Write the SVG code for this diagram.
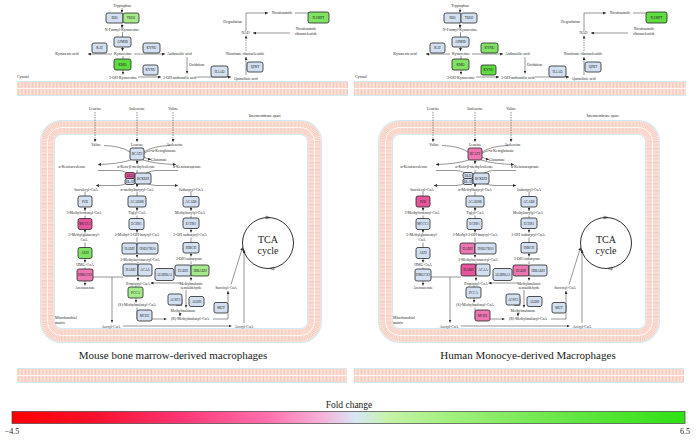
<svg xmlns="http://www.w3.org/2000/svg" width="698" height="442" viewBox="0 0 698 442">
<defs>
<style>
.m{font-family:"Liberation Serif",serif;font-size:3.8px;fill:#2a2a2a;text-anchor:middle}
.ms{text-anchor:start}
.me{text-anchor:end}
.n rect{stroke:#262626;stroke-width:0.8;rx:2px;ry:2px}
.n text{font-family:"Liberation Serif",serif;font-size:3.4px;text-anchor:middle;fill:#1a1a1a}
.bl{fill:#d3e0f1}.g1{fill:#a6ea8c}.g2{fill:#5fdc3f}.g3{fill:#80e264}.p1{fill:#e4559b}.p2{fill:#ec77b2}
.c path,.c line{stroke:#2a2a2a;stroke-width:0.5;fill:none}
.a{marker-end:url(#ar)}
.d{stroke-dasharray:1.5 1}
.title{font-family:"Liberation Serif",serif;font-size:11px;fill:#1a1a1a;text-anchor:middle}
.tca{font-family:"Liberation Serif",serif;font-size:10px;fill:#1a1a1a;text-anchor:middle}
.mb1{fill:none;stroke:#d2e9f1;stroke-width:15}
.mb2{fill:none;stroke:#fde6df;stroke-width:13}
.mb3{fill:none;stroke:#f5c4b6;stroke-width:12;stroke-dasharray:0.6 0.8}
.mb4{fill:none;stroke:#fff;stroke-width:0.8}
</style>
<marker id="ar" markerUnits="userSpaceOnUse" markerWidth="3" markerHeight="3" refX="3" refY="1.5" orient="auto"><path d="M0,0 L3,1.5 L0,3z" fill="#2a2a2a"/></marker>
<pattern id="hatch" width="1.4" height="4" patternUnits="userSpaceOnUse"><rect width="1.4" height="4" fill="#fde6df"/><rect width="0.6" height="4" fill="#f5c4b6"/></pattern>
<linearGradient id="fc" x1="0" x2="1" y1="0" y2="0">
<stop offset="0" stop-color="#ff0000"/><stop offset="0.12" stop-color="#f5102a"/><stop offset="0.25" stop-color="#ff3575"/><stop offset="0.38" stop-color="#ff70ae"/><stop offset="0.46" stop-color="#f6b0d8"/><stop offset="0.51" stop-color="#d8e6f6"/><stop offset="0.56" stop-color="#c6f3a8"/><stop offset="0.65" stop-color="#a2f07e"/><stop offset="0.8" stop-color="#6ee84c"/><stop offset="1" stop-color="#2fe014"/>
</linearGradient>
</defs>
<rect width="698" height="442" fill="#fff"/>

<!-- membranes -->
<g id="membranes">
<rect x="17" y="81" width="331" height="15" fill="#d2e9f1"/><rect x="17" y="82" width="331" height="13" fill="url(#hatch)"/><line x1="17" y1="88.5" x2="348" y2="88.5" stroke="#fff" stroke-width="0.8"/>
<rect x="354" y="81" width="332" height="15" fill="#d2e9f1"/><rect x="354" y="82" width="332" height="13" fill="url(#hatch)"/><line x1="354" y1="88.5" x2="686" y2="88.5" stroke="#fff" stroke-width="0.8"/>
<rect x="17" y="368" width="330" height="15" fill="#d2e9f1"/><rect x="17" y="369" width="330" height="13" fill="url(#hatch)"/><line x1="17" y1="375.5" x2="347" y2="375.5" stroke="#fff" stroke-width="0.8"/>
<rect x="354" y="368" width="330" height="15" fill="#d2e9f1"/><rect x="354" y="369" width="330" height="13" fill="url(#hatch)"/><line x1="354" y1="375.5" x2="684" y2="375.5" stroke="#fff" stroke-width="0.8"/>
<g id="mitoL">
<rect class="mb1" x="47.5" y="127.5" width="267" height="208" rx="14"/>
<rect class="mb2" x="47.5" y="127.5" width="267" height="208" rx="14"/>
<rect class="mb3" x="47.5" y="127.5" width="267" height="208" rx="14"/>
<rect class="mb4" x="47.5" y="127.5" width="267" height="208" rx="14"/>
</g>
<g id="mitoR" transform="translate(338,0)">
<rect class="mb1" x="47.5" y="127.5" width="267" height="208" rx="14"/>
<rect class="mb2" x="47.5" y="127.5" width="267" height="208" rx="14"/>
<rect class="mb3" x="47.5" y="127.5" width="267" height="208" rx="14"/>
<rect class="mb4" x="47.5" y="127.5" width="267" height="208" rx="14"/>
</g>
</g>

<!-- LEFT PANEL -->
<g id="left">
<g id="L-connectors" class="c">
<line class="a" x1="122" y1="8" x2="122" y2="12.8"/>
<line class="a" x1="122" y1="23" x2="122" y2="28"/>
<line class="a" x1="122.5" y1="32" x2="122.5" y2="51"/>
<line class="a" x1="112" y1="54" x2="88" y2="54"/>
<line class="a" x1="134" y1="54" x2="165" y2="54"/>
<line class="a" x1="123" y1="56" x2="123" y2="74.5"/>
<line class="a" x1="138" y1="77" x2="161" y2="77"/>
<line class="a" x1="187" y1="57" x2="187" y2="73.5"/>
<line class="a" x1="197" y1="77" x2="231" y2="77"/>
<line class="a" x1="246" y1="75" x2="246" y2="57"/>
<line class="a d" x1="246" y1="51" x2="246" y2="35.5"/>
<path class="a" d="M246,31 L246,13 L268,13"/>
<line x1="295" y1="13" x2="310" y2="13"/>
<line class="a" x1="290" y1="33" x2="253" y2="33"/>
<line class="a d" x1="95" y1="112" x2="95" y2="142"/>
<line class="a d" x1="137" y1="112" x2="137" y2="142"/>
<line class="a d" x1="173" y1="112" x2="173" y2="142"/>
<path d="M104,145.5 Q121,146 130,152"/>
<path d="M170,145.5 Q153,146 144,152"/>
<path d="M152,150.5 Q147,151 144,153.5"/>
<path class="a" d="M144,157 Q147,159 151,159.5"/>
<path class="a" d="M131,160 Q118,164 98,164.5"/>
<line class="a" x1="137" y1="160" x2="137" y2="164"/>
<path class="a" d="M143,160 Q156,164 176,164.5"/>
<path class="a" d="M98,170.5 L118,170.5 C130,170.5 144,185.5 156,185.5 L178,185.5"/>
<path class="a" d="M178,170.5 L156,170.5 C144,170.5 130,185.5 118,185.5 L96,185.5"/>
<line class="a" x1="137" y1="170" x2="137" y2="187"/>
<line class="a" x1="85" y1="191.5" x2="85" y2="210.8"/>
<line class="a" x1="137" y1="191.5" x2="137" y2="210.8"/>
<line class="a" x1="191" y1="191.5" x2="191" y2="210.8"/>
<line class="a" x1="85" y1="215.5" x2="85" y2="232.5"/>
<line class="a" x1="137" y1="215.5" x2="137" y2="232.5"/>
<line class="a" x1="191" y1="215.5" x2="191" y2="232.5"/>
<line class="a" x1="85" y1="242.5" x2="85" y2="262.5"/>
<line class="a" x1="137" y1="237.5" x2="137" y2="257.5"/>
<line class="a" x1="191" y1="237.5" x2="191" y2="256.5"/>
<line class="a" x1="85" y1="267.5" x2="85" y2="285.5"/>
<line class="a" x1="138" y1="262" x2="138" y2="280.5"/>
<line class="a" x1="191" y1="261.5" x2="191" y2="280.5"/>
<line x1="93" y1="277" x2="123" y2="277"/>
<line class="a" x1="112" y1="277" x2="112" y2="322.5"/>
<line class="a" x1="180" y1="283" x2="150.5" y2="283"/>
<line class="a" x1="136" y1="285.5" x2="136" y2="302.5"/>
<path class="a" d="M137,307.5 L137,319 L166.5,319"/>
<line class="a" x1="186" y1="290" x2="186" y2="307.5"/>
<path d="M176,305.5 L182,305.5 L182,299"/>
<line class="a" x1="180" y1="312.5" x2="180" y2="316.2"/>
<path class="a" d="M213,319 L228,319 L228,291"/>
<line class="a" x1="231" y1="284.5" x2="242.5" y2="247.5"/>
<line class="a" x1="123" y1="326" x2="231.5" y2="326"/>
<line class="a" x1="244" y1="323" x2="244" y2="250"/>
<circle cx="268" cy="243" r="25.5" fill="none" stroke="#1a1a1a" stroke-width="0.9"/>
<path d="M266,216 L270,217.5 L266,219z" fill="#1a1a1a" stroke="none"/>
<path d="M274,267 L270,268.5 L274,270z" fill="#1a1a1a" stroke="none"/>
</g>
<g id="L-labels">
<text class="m" x="122" y="7">Tryptophan</text>
<text class="m" x="122" y="31">N-Formyl-Kynurenine</text>
<text class="m" x="123" y="55">Kynurenine</text>
<text class="m" x="67" y="55">Kynurenic acid</text>
<text class="m ms" x="167" y="55">Anthranilic acid</text>
<text class="m" x="123" y="78.5">3-OH-Kynurenine</text>
<text class="m ms" x="163" y="78.5">3-OH-anthranilic acid</text>
<text class="m ms" x="189" y="66">Oxidation</text>
<text class="m" x="246" y="79.5">Quinolinic acid</text>
<text class="m" x="245" y="55">Nicotinate ribonucleotide</text>
<text class="m" x="246" y="34">NAD⁺</text>
<text class="m me" x="242" y="23">Degradation</text>
<text class="m" x="282" y="14.3">Nicotinamide</text>
<text class="m" x="306" y="30">Nicotinamide</text>
<text class="m" x="306" y="35">ribonucleotide</text>
<text class="m ms" x="17" y="78">Cytosol</text>
<text class="m" x="265" y="117">Intermembrane space</text>
<text class="m" x="95" y="110">Leucine</text>
<text class="m" x="137" y="110">Isoleucine</text>
<text class="m" x="173" y="110">Valine</text>
<text class="m" x="96" y="146">Valine</text>
<text class="m" x="137" y="146">Leucine</text>
<text class="m" x="175" y="146">Isoleucine</text>
<text class="m ms" x="152" y="152">α-Ketoglutarate</text>
<text class="m ms" x="151" y="161">Glutamate</text>
<text class="m" x="72" y="168">α-Ketoisovalerate</text>
<text class="m" x="136" y="168">α-Keto-β-methylvalerate</text>
<text class="m" x="187" y="168">α-Ketoisocaproate</text>
<text class="m" x="86" y="190.5">Isovaleryl-CoA</text>
<text class="m" x="137" y="190.5">α-methylbutyryl-CoA</text>
<text class="m" x="191" y="190.5">Isobutyryl-CoA</text>
<text class="m" x="84" y="214">3-Methylcrotonyl-CoA</text>
<text class="m" x="137" y="214">Tiglyl-CoA</text>
<text class="m" x="190" y="214">Methylacrylyl-CoA</text>
<text class="m" x="84" y="236">3-Methylglutaconyl-</text>
<text class="m" x="84" y="241">CoA</text>
<text class="m" x="137" y="236">2-Methyl-3-OH-butyryl-CoA</text>
<text class="m" x="190" y="236">3-OH isobutyryl-CoA</text>
<text class="m" x="85" y="266">HMG-CoA</text>
<text class="m" x="140" y="261">2-Methylacetoacetyl-CoA</text>
<text class="m" x="189" y="260">3-OH isobutyrate</text>
<text class="m" x="85" y="289">Acetoacetate</text>
<text class="m" x="138" y="284.5">Propionyl-CoA</text>
<text class="m" x="191" y="284.5">Methylmalonic</text>
<text class="m" x="191" y="289">semialdehyde</text>
<text class="m" x="137" y="306">(S)-Methylmalonyl-CoA</text>
<text class="m" x="183" y="311.5">Methylmalonate</text>
<text class="m" x="190" y="320">(R)-Methylmalonyl-CoA</text>
<text class="m" x="226" y="288.5">Succinyl-CoA</text>
<text class="m ms" x="55" y="319">Mitochondrial</text>
<text class="m ms" x="55" y="324">matrix</text>
<text class="m" x="111" y="327.5">Acetyl-CoA</text>
<text class="m" x="244" y="327.5">Acetyl-CoA</text>
<text class="tca" x="268" y="243">TCA</text>
<text class="tca" x="268" y="253.5">cycle</text>
</g>
<g id="L-IDO" class="n"><rect class="bl" x="106" y="13" width="17" height="10"/><text x="114.5" y="19.2">IDO</text></g>
<g id="L-TDO2" class="n"><rect class="g1" x="123" y="13" width="16" height="10"/><text x="131" y="19.2">TDO2</text></g>
<g id="L-AFMID" class="n"><rect class="bl" x="114" y="37" width="17" height="10"/><text x="122.5" y="43.2">AFMID</text></g>
<g id="L-KAT" class="n"><rect class="bl" x="92" y="43" width="15" height="10"/><text x="99.5" y="49.2">KAT</text></g>
<g id="L-KYNU1" class="n"><rect class="bl" x="143" y="43" width="17" height="10"/><text x="151.5" y="49.2">KYNU</text></g>
<g id="L-KMO" class="n"><rect class="g2" x="114" y="59" width="17" height="11"/><text x="122.5" y="65.7">KMO</text></g>
<g id="L-KYNU2" class="n"><rect class="bl" x="143" y="65" width="15" height="10"/><text x="150.5" y="71.2">KYNU</text></g>
<g id="L-HAAO" class="n"><rect class="bl" x="211" y="66" width="17" height="11"/><text x="219.5" y="72.7">HAAO</text></g>
<g id="L-QPRT" class="n"><rect class="bl" x="247" y="62" width="16" height="10"/><text x="255" y="68.2">QPRT</text></g>
<g id="L-NAMPT" class="n"><rect class="g3" x="308" y="12" width="21" height="11"/><text x="318.5" y="18.7">NAMPT</text></g>
<g id="L-BCAT2" class="n"><rect class="bl" x="130" y="148" width="14" height="12"/><text x="137" y="155.2">BCAT2</text></g>
<g id="L-DLD" class="n"><rect class="p1" x="125" y="172.5" width="10" height="6"/><text x="130" y="176.7">DLD</text></g>
<g id="L-DLAT" class="n"><rect class="bl" x="125" y="178.5" width="10" height="6"/><text x="130" y="182.7">DLAT</text></g>
<g id="L-BCKDH" class="n"><rect class="bl" x="135" y="173" width="16" height="11"/><text x="143" y="179.7">BCKDH</text></g>
<g id="L-IVD" class="n"><rect class="bl" x="78" y="196" width="14" height="11"/><text x="85" y="202.7">IVD</text></g>
<g id="L-ACADSB" class="n"><rect class="bl" x="128" y="196" width="18" height="11"/><text x="137" y="202.7">ACADSB</text></g>
<g id="L-ACADS" class="n"><rect class="bl" x="183" y="196.5" width="16" height="10.5"/><text x="191" y="203">ACADS</text></g>
<g id="L-MCCC1" class="n"><rect class="p1" x="78" y="218.5" width="14" height="11"/><text x="85" y="225.2">MCCC1</text></g>
<g id="L-ECHS1a" class="n"><rect class="bl" x="129" y="218.5" width="15" height="11"/><text x="136.5" y="225.2">ECHS1</text></g>
<g id="L-ECHS1b" class="n"><rect class="bl" x="183" y="218" width="16" height="10.5"/><text x="191" y="224.5">ECHS1</text></g>
<g id="L-AUH" class="n"><rect class="g3" x="78" y="247.5" width="14" height="11"/><text x="85" y="254.2">AUH</text></g>
<g id="L-HADHa" class="n"><rect class="bl" x="122" y="243" width="15" height="11"/><text x="129.5" y="249.7">HADH</text></g>
<g id="L-HSD17B10" class="n"><rect class="bl" x="137" y="243" width="21" height="11"/><text x="147.5" y="249.7">HSD17B10</text></g>
<g id="L-HIBCH" class="n"><rect class="bl" x="183" y="242.5" width="16" height="10.5"/><text x="191" y="249">HIBCH</text></g>
<g id="L-HMGCS2" class="n"><rect class="p2" x="77" y="269" width="16" height="12"/><text x="85" y="276.2">HMGCS2</text></g>
<g id="L-HADHb" class="n"><rect class="bl" x="123" y="264" width="15" height="12"/><text x="130.5" y="271.2">HADH</text></g>
<g id="L-ACAA" class="n"><rect class="bl" x="138" y="264" width="14" height="12"/><text x="145" y="271.2">ACAA</text></g>
<g id="L-ALDH6A1" class="n"><rect class="bl" x="155" y="268.5" width="19" height="12"/><text x="164.5" y="275.5">ALDH6A1</text></g>
<g id="L-HADHc" class="n"><rect class="bl" x="175" y="265" width="16" height="11"/><text x="183" y="271.7">HADH</text></g>
<g id="L-HIBADH" class="n"><rect class="g1" x="191" y="265" width="18" height="11"/><text x="200" y="271.7">HIBADH</text></g>
<g id="L-PCCA" class="n"><rect class="g1" x="128" y="287" width="15" height="11"/><text x="135.5" y="293.7">PCCA</text></g>
<g id="L-ACSF3" class="n"><rect class="bl" x="168" y="294" width="14" height="11"/><text x="175" y="300.7">ACSF3</text></g>
<g id="L-ALDH" class="n"><rect class="bl" x="189" y="296.5" width="15" height="10"/><text x="196.5" y="302.7">ALDH</text></g>
<g id="L-MCEE" class="n"><rect class="bl" x="137" y="310" width="15" height="11"/><text x="144.5" y="316.7">MCEE</text></g>
<g id="L-MUT" class="n"><rect class="bl" x="214" y="302.5" width="14" height="10.5"/><text x="221" y="309">MUT</text></g>
</g>
<text class="title" x="173" y="359">Mouse bone marrow-derived macrophages</text>

<!-- RIGHT PANEL -->
<g id="right" transform="translate(338,0)">
<g id="R-connectors" class="c">
<line class="a" x1="122" y1="8" x2="122" y2="12.8"/>
<line class="a" x1="122" y1="23" x2="122" y2="28"/>
<line class="a" x1="122.5" y1="32" x2="122.5" y2="51"/>
<line class="a" x1="112" y1="54" x2="88" y2="54"/>
<line class="a" x1="134" y1="54" x2="165" y2="54"/>
<line class="a" x1="123" y1="56" x2="123" y2="74.5"/>
<line class="a" x1="138" y1="77" x2="161" y2="77"/>
<line class="a" x1="187" y1="57" x2="187" y2="73.5"/>
<line class="a" x1="197" y1="77" x2="231" y2="77"/>
<line class="a" x1="246" y1="75" x2="246" y2="57"/>
<line class="a d" x1="246" y1="51" x2="246" y2="35.5"/>
<path class="a" d="M246,31 L246,13 L268,13"/>
<line x1="295" y1="13" x2="310" y2="13"/>
<line class="a" x1="290" y1="33" x2="253" y2="33"/>
<line class="a d" x1="95" y1="112" x2="95" y2="142"/>
<line class="a d" x1="137" y1="112" x2="137" y2="142"/>
<line class="a d" x1="173" y1="112" x2="173" y2="142"/>
<path d="M104,145.5 Q121,146 130,152"/>
<path d="M170,145.5 Q153,146 144,152"/>
<path d="M152,150.5 Q147,151 144,153.5"/>
<path class="a" d="M144,157 Q147,159 151,159.5"/>
<path class="a" d="M131,160 Q118,164 98,164.5"/>
<line class="a" x1="137" y1="160" x2="137" y2="164"/>
<path class="a" d="M143,160 Q156,164 176,164.5"/>
<path class="a" d="M98,170.5 L118,170.5 C130,170.5 144,185.5 156,185.5 L178,185.5"/>
<path class="a" d="M178,170.5 L156,170.5 C144,170.5 130,185.5 118,185.5 L96,185.5"/>
<line class="a" x1="137" y1="170" x2="137" y2="187"/>
<line class="a" x1="85" y1="191.5" x2="85" y2="210.8"/>
<line class="a" x1="137" y1="191.5" x2="137" y2="210.8"/>
<line class="a" x1="191" y1="191.5" x2="191" y2="210.8"/>
<line class="a" x1="85" y1="215.5" x2="85" y2="232.5"/>
<line class="a" x1="137" y1="215.5" x2="137" y2="232.5"/>
<line class="a" x1="191" y1="215.5" x2="191" y2="232.5"/>
<line class="a" x1="85" y1="242.5" x2="85" y2="262.5"/>
<line class="a" x1="137" y1="237.5" x2="137" y2="257.5"/>
<line class="a" x1="191" y1="237.5" x2="191" y2="256.5"/>
<line class="a" x1="85" y1="267.5" x2="85" y2="285.5"/>
<line class="a" x1="138" y1="262" x2="138" y2="280.5"/>
<line class="a" x1="191" y1="261.5" x2="191" y2="280.5"/>
<line x1="93" y1="277" x2="123" y2="277"/>
<line class="a" x1="112" y1="277" x2="112" y2="322.5"/>
<line class="a" x1="180" y1="283" x2="150.5" y2="283"/>
<line class="a" x1="136" y1="285.5" x2="136" y2="302.5"/>
<path class="a" d="M137,307.5 L137,319 L166.5,319"/>
<line class="a" x1="186" y1="290" x2="186" y2="307.5"/>
<path d="M176,305.5 L182,305.5 L182,299"/>
<line class="a" x1="180" y1="312.5" x2="180" y2="316.2"/>
<path class="a" d="M213,319 L228,319 L228,291"/>
<line class="a" x1="231" y1="284.5" x2="242.5" y2="247.5"/>
<line class="a" x1="123" y1="326" x2="231.5" y2="326"/>
<line class="a" x1="244" y1="323" x2="244" y2="250"/>
<circle cx="268" cy="243" r="25.5" fill="none" stroke="#1a1a1a" stroke-width="0.9"/>
<path d="M266,216 L270,217.5 L266,219z" fill="#1a1a1a" stroke="none"/>
<path d="M274,267 L270,268.5 L274,270z" fill="#1a1a1a" stroke="none"/>
</g>
<g id="R-labels">
<text class="m" x="122" y="7">Tryptophan</text>
<text class="m" x="122" y="31">N-Formyl-Kynurenine</text>
<text class="m" x="123" y="55">Kynurenine</text>
<text class="m" x="67" y="55">Kynurenic acid</text>
<text class="m ms" x="167" y="55">Anthranilic acid</text>
<text class="m" x="123" y="78.5">3-OH-Kynurenine</text>
<text class="m ms" x="163" y="78.5">3-OH-anthranilic acid</text>
<text class="m ms" x="189" y="66">Oxidation</text>
<text class="m" x="246" y="79.5">Quinolinic acid</text>
<text class="m" x="245" y="55">Nicotinate ribonucleotide</text>
<text class="m" x="246" y="34">NAD⁺</text>
<text class="m me" x="242" y="23">Degradation</text>
<text class="m" x="282" y="14.3">Nicotinamide</text>
<text class="m" x="306" y="30">Nicotinamide</text>
<text class="m" x="306" y="35">ribonucleotide</text>
<text class="m ms" x="17" y="78">Cytosol</text>
<text class="m" x="265" y="117">Intermembrane space</text>
<text class="m" x="95" y="110">Leucine</text>
<text class="m" x="137" y="110">Isoleucine</text>
<text class="m" x="173" y="110">Valine</text>
<text class="m" x="96" y="146">Valine</text>
<text class="m" x="137" y="146">Leucine</text>
<text class="m" x="175" y="146">Isoleucine</text>
<text class="m ms" x="152" y="152">α-Ketoglutarate</text>
<text class="m ms" x="151" y="161">Glutamate</text>
<text class="m" x="76" y="168">α-Ketoisovalerate</text>
<text class="m" x="136" y="168">α-Keto-β-methylvalerate</text>
<text class="m" x="187" y="168">α-Ketoisocaproate</text>
<text class="m" x="84" y="190.5">Isovaleryl-CoA</text>
<text class="m" x="137" y="190.5">α-Methylbutyryl-CoA</text>
<text class="m" x="191" y="190.5">Isobutyryl-CoA</text>
<text class="m" x="84" y="214">3-Methylcrotonyl-CoA</text>
<text class="m" x="137" y="214">Tiglyl-CoA</text>
<text class="m" x="190" y="214">Methylacrylyl-CoA</text>
<text class="m" x="84" y="236">3-Methylglutaconyl-</text>
<text class="m" x="84" y="241">CoA</text>
<text class="m" x="137" y="236">2-Methyl-3-OH-butyryl-CoA</text>
<text class="m" x="190" y="236">3-OH isobutyryl-CoA</text>
<text class="m" x="85" y="266">HMG-CoA</text>
<text class="m" x="140" y="261">2-Methylacetoacetyl-CoA</text>
<text class="m" x="189" y="260">3-OH isobutyrate</text>
<text class="m" x="85" y="289">Acetoacetate</text>
<text class="m" x="138" y="284.5">Propionyl-CoA</text>
<text class="m" x="191" y="284.5">Methylmalonic</text>
<text class="m" x="191" y="289">semialdehyde</text>
<text class="m" x="137" y="306">(S)-Methylmalonyl-CoA</text>
<text class="m" x="185" y="311.5">Methylmalonate</text>
<text class="m" x="190" y="320">(R)-Methylmalonyl-CoA</text>
<text class="m" x="227" y="288.5">Succinyl-CoA</text>
<text class="m ms" x="55" y="319">Mitochondrial</text>
<text class="m ms" x="55" y="324">matrix</text>
<text class="m" x="111" y="327.5">Acetyl-CoA</text>
<text class="m" x="244" y="327.5">Acetyl-CoA</text>
<text class="tca" x="268" y="243">TCA</text>
<text class="tca" x="268" y="253.5">cycle</text>
</g>
<g id="R-IDO" class="n"><rect class="bl" x="106" y="13" width="17" height="10"/><text x="114.5" y="19.2">IDO</text></g>
<g id="R-TDO2" class="n"><rect class="bl" x="123" y="13" width="16" height="10"/><text x="131" y="19.2">TDO2</text></g>
<g id="R-AFMID" class="n"><rect class="bl" x="114" y="37" width="17" height="10"/><text x="122.5" y="43.2">AFMID</text></g>
<g id="R-KAT" class="n"><rect class="bl" x="92" y="43" width="15" height="10"/><text x="99.5" y="49.2">KAT</text></g>
<g id="R-KYNU1" class="n"><rect class="g3" x="143" y="43" width="17" height="10"/><text x="151.5" y="49.2">KYNU</text></g>
<g id="R-KMO" class="n"><rect class="g3" x="114" y="59" width="17" height="11"/><text x="122.5" y="65.7">KMO</text></g>
<g id="R-KYNU2" class="n"><rect class="g2" x="143" y="65" width="15" height="10"/><text x="150.5" y="71.2">KYNU</text></g>
<g id="R-HAAO" class="n"><rect class="bl" x="211" y="66" width="17" height="11"/><text x="219.5" y="72.7">HAAO</text></g>
<g id="R-QPRT" class="n"><rect class="bl" x="247" y="62" width="16" height="10"/><text x="255" y="68.2">QPRT</text></g>
<g id="R-NAMPT" class="n"><rect class="g2" x="308" y="12" width="21" height="11"/><text x="318.5" y="18.7">NAMPT</text></g>
<g id="R-BCAT2" class="n"><rect class="p2" x="130" y="148" width="14" height="12"/><text x="137" y="155.2">BCAT2</text></g>
<g id="R-DLD" class="n"><rect class="bl" x="125" y="172.5" width="10" height="6"/><text x="130" y="176.7">DLD</text></g>
<g id="R-DLAT" class="n"><rect class="bl" x="125" y="178.5" width="10" height="6"/><text x="130" y="182.7">DLAT</text></g>
<g id="R-BCKDH" class="n"><rect class="bl" x="135" y="173" width="16" height="11"/><text x="143" y="179.7">BCKDH</text></g>
<g id="R-IVD" class="n"><rect class="p1" x="78" y="196" width="14" height="11"/><text x="85" y="202.7">IVD</text></g>
<g id="R-ACADSB" class="n"><rect class="bl" x="128" y="196" width="18" height="11"/><text x="137" y="202.7">ACADSB</text></g>
<g id="R-ACADS" class="n"><rect class="bl" x="183" y="196.5" width="16" height="10.5"/><text x="191" y="203">ACADS</text></g>
<g id="R-MCCC1" class="n"><rect class="bl" x="78" y="218.5" width="14" height="11"/><text x="85" y="225.2">MCCC1</text></g>
<g id="R-ECHS1a" class="n"><rect class="bl" x="129" y="218.5" width="15" height="11"/><text x="136.5" y="225.2">ECHS1</text></g>
<g id="R-ECHS1b" class="n"><rect class="bl" x="183" y="218" width="16" height="10.5"/><text x="191" y="224.5">ECHS1</text></g>
<g id="R-AUH" class="n"><rect class="bl" x="78" y="247.5" width="14" height="11"/><text x="85" y="254.2">AUH</text></g>
<g id="R-HADHa" class="n"><rect class="p2" x="122" y="243" width="15" height="11"/><text x="129.5" y="249.7">HADH</text></g>
<g id="R-HSD17B10" class="n"><rect class="bl" x="137" y="243" width="21" height="11"/><text x="147.5" y="249.7">HSD17B10</text></g>
<g id="R-HIBCH" class="n"><rect class="bl" x="183" y="242.5" width="16" height="10.5"/><text x="191" y="249">HIBCH</text></g>
<g id="R-HMGCS2" class="n"><rect class="bl" x="77" y="269" width="16" height="12"/><text x="85" y="276.2">HMGCS2</text></g>
<g id="R-HADHb" class="n"><rect class="p1" x="123" y="264" width="15" height="12"/><text x="130.5" y="271.2">HADH</text></g>
<g id="R-ACAA" class="n"><rect class="bl" x="138" y="264" width="14" height="12"/><text x="145" y="271.2">ACAA</text></g>
<g id="R-ALDH6A1" class="n"><rect class="bl" x="155" y="268.5" width="19" height="12"/><text x="164.5" y="275.5">ALDH6A1</text></g>
<g id="R-HADHc" class="n"><rect class="p2" x="175" y="265" width="16" height="11"/><text x="183" y="271.7">HADH</text></g>
<g id="R-HIBADH" class="n"><rect class="bl" x="191" y="265" width="18" height="11"/><text x="200" y="271.7">HIBADH</text></g>
<g id="R-PCCA" class="n"><rect class="bl" x="128" y="287" width="15" height="11"/><text x="135.5" y="293.7">PCCA</text></g>
<g id="R-ACSF3" class="n"><rect class="bl" x="168" y="294" width="14" height="11"/><text x="175" y="300.7">ACSF3</text></g>
<g id="R-ALDH" class="n"><rect class="bl" x="189" y="296.5" width="15" height="10"/><text x="196.5" y="302.7">ALDH</text></g>
<g id="R-MCEE" class="n"><rect class="p2" x="137" y="310" width="15" height="11"/><text x="144.5" y="316.7">MCEE</text></g>
<g id="R-MUT" class="n"><rect class="bl" x="214" y="302.5" width="14" height="10.5"/><text x="221" y="309">MUT</text></g>
</g>
<text class="title" x="528" y="358.5">Human Monocye-derived Macrophages</text>

<!-- colour scale -->
<g id="legend">
<text x="349" y="408" font-family="Liberation Serif, serif" font-size="9.5" text-anchor="middle" fill="#1a1a1a">Fold change</text>
<rect x="12" y="411.5" width="673" height="12" fill="url(#fc)" stroke="#444" stroke-width="0.7"/>
<text x="12" y="434" font-family="Liberation Serif, serif" font-size="8" text-anchor="middle" fill="#1a1a1a">−4.5</text>
<text x="685" y="434" font-family="Liberation Serif, serif" font-size="8" text-anchor="middle" fill="#1a1a1a">6.5</text>
</g>
</svg>
